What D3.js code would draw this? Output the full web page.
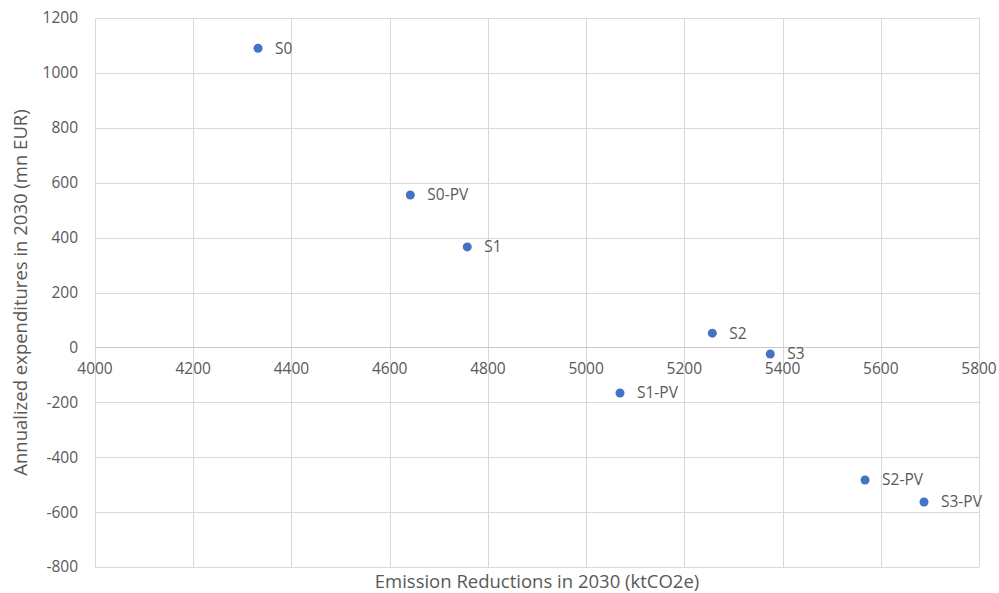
<!DOCTYPE html>
<html>
<head>
<meta charset="utf-8">
<script src="https://cdn.jsdelivr.net/npm/d3@7"></script>
<style>
  html, body { margin: 0; padding: 0; background: #fff; }
  svg { display: block; font-family: "Open Sans", "Liberation Sans", sans-serif; }
</style>
</head>
<body>
<svg id="chart" width="999" height="593"></svg>
<script>
// Scenario results: emission reductions vs annualized expenditures (2030)
const scenarios = ["S0", "S0-PV", "S1", "S2", "S3", "S1-PV", "S2-PV", "S3-PV"];
const emissionReductions = [4332, 4642, 4758, 5257, 5375, 5069, 5568, 5688];
const expenditures = [1090, 555, 366, 52, -24, -166, -483, -563];
const xTicks = [4000, 4200, 4400, 4600, 4800, 5000, 5200, 5400, 5600, 5800];
const yTicks = [-800, -600, -400, -200, 0, 200, 400, 600, 800, 1000, 1200];

const svg = d3.select("#chart");
const plot = { left: 95, right: 979, top: 18, bottom: 567 };

const x = d3.scaleLinear().domain([4000, 5800]).range([plot.left, plot.right]);
const y = d3.scaleLinear().domain([-800, 1200]).range([plot.bottom, plot.top]);

const gridColor = "#d9d9d9";
const textColor = "#595959";
const tickFont = 15.5;

// Vertical gridlines
svg.append("g")
  .selectAll("line")
  .data(xTicks)
  .join("line")
  .attr("x1", d => Math.round(x(d)) + 0.5).attr("x2", d => Math.round(x(d)) + 0.5)
  .attr("y1", plot.top).attr("y2", plot.bottom)
  .attr("stroke", gridColor).attr("stroke-width", 1);

// Horizontal gridlines
svg.append("g")
  .selectAll("line")
  .data(yTicks)
  .join("line")
  .attr("x1", plot.left).attr("x2", plot.right)
  .attr("y1", d => Math.round(y(d)) + 0.5).attr("y2", d => Math.round(y(d)) + 0.5)
  .attr("stroke", gridColor).attr("stroke-width", 1);

// Zero axis line slightly darker
svg.append("line")
  .attr("x1", plot.left).attr("x2", plot.right)
  .attr("y1", Math.round(y(0)) + 0.5).attr("y2", Math.round(y(0)) + 0.5)
  .attr("stroke", "#c8c8c8").attr("stroke-width", 1);

// Y tick labels
svg.append("g")
  .selectAll("text")
  .data(yTicks)
  .join("text")
  .attr("x", plot.left - 17)
  .attr("y", d => y(d))
  .attr("dy", "0.35em")
  .attr("text-anchor", "end")
  .attr("font-size", tickFont)
  .attr("fill", textColor)
  .text(d => d);

// X tick labels, placed along the zero line
svg.append("g")
  .selectAll("text")
  .data(xTicks)
  .join("text")
  .attr("x", d => x(d))
  .attr("y", y(0) + 27)
  .attr("text-anchor", "middle")
  .attr("font-size", tickFont)
  .attr("fill", textColor)
  .text(d => d);

// Axis titles
svg.append("text")
  .attr("x", (plot.left + plot.right) / 2)
  .attr("y", 588)
  .attr("text-anchor", "middle")
  .attr("font-size", 18.5)
  .attr("fill", textColor)
  .text("Emission Reductions in 2030 (ktCO2e)");

svg.append("text")
  .attr("transform", `translate(27, ${(plot.top + plot.bottom) / 2}) rotate(-90)`)
  .attr("text-anchor", "middle")
  .attr("font-size", 18.5)
  .attr("fill", textColor)
  .text("Annualized expenditures in 2030 (mn EUR)");

// Points and labels
const data = scenarios.map((name, i) => ({ name, xv: emissionReductions[i], yv: expenditures[i] }));

svg.append("g")
  .selectAll("circle")
  .data(data)
  .join("circle")
  .attr("cx", d => x(d.xv))
  .attr("cy", d => y(d.yv))
  .attr("r", 4.5)
  .attr("fill", "#4472c4");

svg.append("g")
  .selectAll("text")
  .data(data)
  .join("text")
  .attr("x", d => x(d.xv) + 17)
  .attr("y", d => y(d.yv))
  .attr("dy", "0.35em")
  .attr("font-size", tickFont)
  .attr("fill", textColor)
  .text(d => d.name);
</script>
</body>
</html>
